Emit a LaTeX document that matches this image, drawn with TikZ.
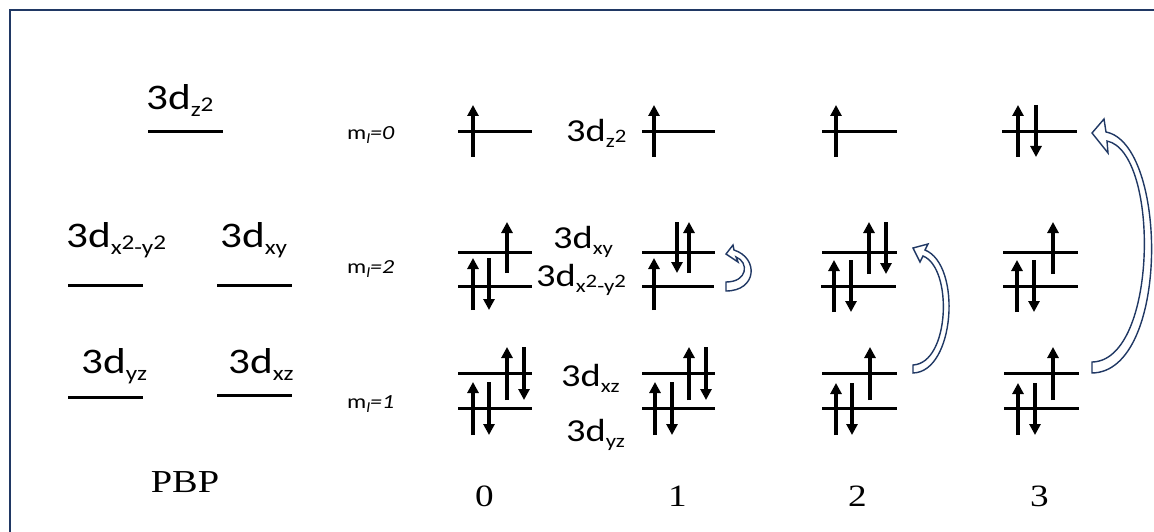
\documentclass[tikz,border=0pt]{standalone}
\usepackage{fontspec}
\setmainfont[FakeStretch=1.2]{Carlito}
\newfontfamily\tms[FakeStretch=1.2]{Liberation Serif}
\usetikzlibrary{arrows.meta}
\definecolor{navy}{HTML}{203864}
% subscript helpers
\newcommand{\osub}[3]{\raisebox{-#2pt}{\fontsize{#1}{#1}\selectfont #3}}
\newcommand{\osq}{\raisebox{5pt}{2}}
\newcommand{\spinup}[3]{\draw[spin] (#1,#3) -- (#1,#2);}
\newcommand{\spindn}[3]{\draw[spin] (#1,#2) -- (#1,#3);}
\newcommand{\orbline}[3]{\draw[lvl] (#1,#3) -- (#2,#3);}
\tikzset{
  lvl/.style={line width=3pt},
  spin/.style={line width=3.1pt, -{Triangle[width=11pt,length=11pt]}},
  lab/.style={inner sep=0pt, anchor=base west, font=\fontsize{36}{36}\selectfont},
  labb/.style={inner sep=0pt, anchor=base west, font=\fontsize{32}{32}\selectfont},
  ml/.style={inner sep=0pt, anchor=base west, font=\fontsize{20}{20}\selectfont},
  num/.style={inner sep=0pt, anchor=base, font=\tms\fontsize{31}{31}\selectfont},
  block/.style={draw=navy, line width=1.4pt, fill=white, line join=miter},
  frame/.style={draw=navy, line width=2pt}
}
\begin{document}
\begin{tikzpicture}[x=1pt,y=-1pt]
\useasboundingbox (0,0) rectangle (1154,532);
% frame
\draw[frame] (10,532) -- (10,10) -- (1154,10);

% ---- PBP column ----
\node[lab] (pz2) at (146,110) {3d\osub{21}{7}{z\osq}};
\orbline{148}{223}{132}
\node[lab] (px2) at (66,247) {3d\osub{21}{7}{x\osq-y\osq}};
\orbline{68}{143}{285}
\node[lab] (pxy) at (220,247) {3d\osub{21}{7}{xy}};
\orbline{217}{292}{285}
\node[lab] (pyz) at (81,373) {3d\osub{21}{7}{yz}};
\orbline{68}{143}{397}
\node[lab] (pxz) at (228,373) {3d\osub{21}{7}{xz}};
\orbline{217}{292}{395}
\node[num, font=\tms\fontsize{32}{32}\selectfont] (pbp) at (185,492) {PBP};

% ---- m_l labels ----
\node[ml] (m0) at (347,140) {m\raisebox{-4pt}{\fontsize{14}{14}\selectfont\itshape l}\itshape =0};
\node[ml] (m2) at (347,273) {m\raisebox{-4pt}{\fontsize{14}{14}\selectfont\itshape l}\itshape =2};
\node[ml] (m1) at (347,408) {m\raisebox{-4pt}{\fontsize{14}{14}\selectfont\itshape l}\itshape =1};

% ---- column 0 ----
\orbline{458}{532}{132}
\orbline{458}{532}{252}
\orbline{458}{532}{286}
\orbline{458}{532}{373}
\orbline{458}{532}{408}
\spinup{473}{105}{157}
\spinup{507}{222}{273}
\spinup{473}{258}{310}
\spindn{489}{258}{310}
\spinup{507}{347}{400}
\spindn{524}{347}{400}
\spinup{473}{382}{435}
\spindn{489}{382}{435}

% ---- column 1 ----
\orbline{642}{715}{132}
\orbline{642}{715}{252}
\orbline{642}{714}{286}
\orbline{642}{715}{373}
\orbline{642}{715}{408}
\spinup{654}{105}{157}
\spindn{677}{222}{273}
\spinup{689}{222}{273}
\spinup{654}{258}{310}
\spinup{689}{347}{400}
\spindn{706}{347}{400}
\spinup{655}{382}{435}
\spindn{672}{382}{435}
\node[labb] (cz2) at (566,142) {3d\osub{19}{6}{z\osq}};
\node[labb] (cxy) at (553,248) {3d\osub{19}{6}{xy}};
\node[labb] (cx2) at (536,286) {3d\osub{19}{6}{x\osq-y\osq}};
\node[labb] (cxz) at (561,386) {3d\osub{19}{6}{xz}};
\node[labb] (cyz) at (566,441) {3d\osub{19}{6}{yz}};

% ---- column 2 ----
\orbline{822}{897}{132}
\orbline{822}{897}{252}
\orbline{821}{896}{286}
\orbline{822}{897}{373}
\orbline{822}{897}{408}
\spinup{836}{105}{157}
\spinup{869}{222}{274}
\spindn{886}{222}{274}
\spinup{834}{260}{312}
\spindn{851}{260}{312}
\spinup{870}{347}{400}
\spinup{836}{383}{435}
\spindn{852}{383}{435}

% ---- column 3 ----
\orbline{1002}{1077}{132}
\orbline{1003}{1078}{252}
\orbline{1003}{1078}{286}
\orbline{1004}{1079}{373}
\orbline{1004}{1079}{408}
\spinup{1018}{105}{157}
\spindn{1036}{105}{157}
\spinup{1053}{222}{274}
\spinup{1017}{260}{312}
\spindn{1034}{260}{312}
\spinup{1053}{347}{400}
\spinup{1018}{383}{435}
\spindn{1035}{383}{435}

% ---- column numbers ----
\node[num] (n0) at (484.5,506) {0};
\node[num] (n1) at (677.5,506) {1};
\node[num] (n2) at (857.5,506) {2};
\node[num] (n3) at (1039.5,506) {3};

% ---- curved block arrows ----
\draw[block] (726,291) .. controls (757,291) and (759,258) .. (734,250)
  -- (733,245) -- (726,254) -- (738,262) -- (736,257)
  .. controls (749,262) and (748,282) .. (726,282) -- cycle;
\draw[block] (913,373) .. controls (955,372) and (962,265) .. (925,250)
  -- (928,244) -- (913,248) -- (920,262) -- (923,256)
  .. controls (953,268) and (950,363) .. (913,365) -- cycle;
\draw[block] (1092,373) .. controls (1170,372) and (1168,144) .. (1106,132)
  -- (1104,119) -- (1092,133) -- (1108,153) -- (1107,141)
  .. controls (1160,152) and (1158,361) .. (1092,362) -- cycle;
\end{tikzpicture}
\end{document}
